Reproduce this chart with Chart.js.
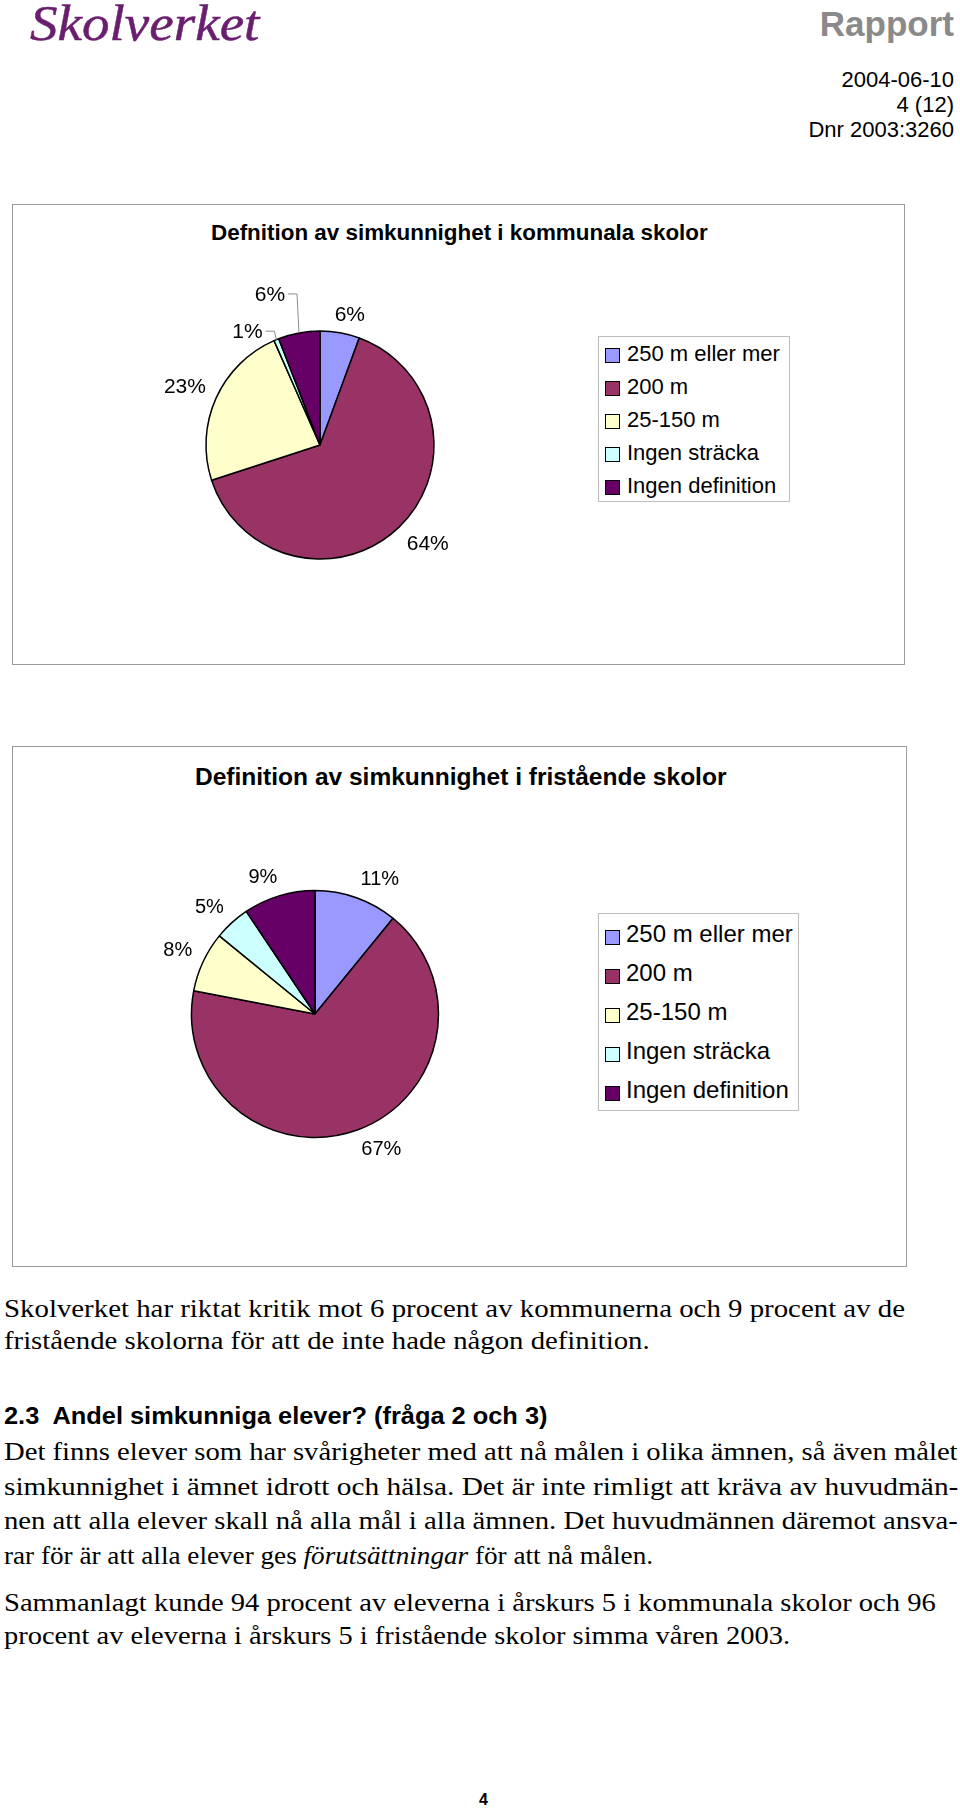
<!DOCTYPE html>
<html lang="sv">
<head>
<meta charset="utf-8">
<title>Definition av simkunnighet</title>
<script src="https://cdn.jsdelivr.net/npm/chart.js@4.4.1/dist/chart.umd.min.js"></script>
<style>
html, body { margin: 0; padding: 0; background: #fff; }
#page { position: relative; width: 960px; height: 1811px; overflow: hidden; font-family: "Liberation Sans", Arial, sans-serif; color: #000; }
.abs { position: absolute; white-space: pre; line-height: 1; }
.serif { font-family: "Liberation Serif", "Times New Roman", serif; font-size: 25px; }
.box { position: absolute; border: 1.5px solid #9a9a9a; box-sizing: border-box; }
canvas { position: absolute; }
.legend { position: absolute; border: 1px solid #bdbdbd; box-sizing: border-box; background: #fff; }
.legend .txt { position: absolute; white-space: nowrap; line-height: 1; }
.legend .mark { position: absolute; border: 1.5px solid #000; box-sizing: border-box; }
</style>
</head>
<body>
<div id="page">
  <div class="abs" id="logo" style="left:30px; top:-2px; font-family:'Liberation Serif',serif; font-style:italic; font-size:51px; color:#6a1f6e; -webkit-text-stroke:0.5px #6a1f6e;" data-w="229">Skolverket</div>
  <div class="abs" style="right:6px; top:6px; font-size:35px; font-weight:bold; color:#8a8a8a;">Rapport</div>
  <div class="abs" style="right:6px; top:69px; font-size:22px;">2004-06-10</div>
  <div class="abs" style="right:6px; top:94px; font-size:22px;">4 (12)</div>
  <div class="abs" style="right:6px; top:119px; font-size:22px;">Dnr 2003:3260</div>

  <div class="box" style="left:12px; top:204px; width:893px; height:461px;"></div>
  <div class="abs title" style="top:222px; font-size:22px; font-weight:bold;" data-cx="459" data-w="497">Defnition av simkunnighet i kommunala skolor</div>
  <canvas id="chart1" width="894" height="461" style="left:12px; top:204px;"></canvas>
  <div class="legend" id="legend1" style="left:598px; top:336px; width:192px; height:166px;"></div>

  <div class="box" style="left:12px; top:746px; width:895px; height:521px;"></div>
  <div class="abs title" style="top:766px; font-size:23px; font-weight:bold;" data-cx="460" data-w="531">Definition av simkunnighet i fristående skolor</div>
  <canvas id="chart2" width="894" height="520" style="left:12px; top:746px;"></canvas>
  <div class="legend" id="legend2" style="left:598px; top:913px; width:201px; height:198px;"></div>

  <div class="abs serif fit" style="left:4px; top:1296px;" data-w="901">Skolverket har riktat kritik mot 6 procent av kommunerna och 9 procent av de</div>
  <div class="abs serif fit" style="left:4px; top:1328px;" data-w="646">fristående skolorna för att de inte hade någon definition.</div>

  <div class="abs fit" style="left:4px; top:1405px; font-size:23px; font-weight:bold;" data-w="544">2.3  Andel simkunniga elever? (fråga 2 och 3)</div>
  <div class="abs serif fit" style="left:4px; top:1439px;" data-w="954">Det finns elever som har svårigheter med att nå målen i olika ämnen, så även målet</div>
  <div class="abs serif fit" style="left:4px; top:1474px;" data-w="954">simkunnighet i ämnet idrott och hälsa. Det är inte rimligt att kräva av huvudmän-</div>
  <div class="abs serif fit" style="left:4px; top:1508px;" data-w="954">nen att alla elever skall nå alla mål i alla ämnen. Det huvudmännen däremot ansva-</div>
  <div class="abs serif fit" style="left:4px; top:1543px;" data-w="649">rar för är att alla elever ges <i>förutsättningar</i> för att nå målen.</div>

  <div class="abs serif fit" style="left:4px; top:1590px;" data-w="932">Sammanlagt kunde 94 procent av eleverna i årskurs 5 i kommunala skolor och 96</div>
  <div class="abs serif fit" style="left:4px; top:1623px;" data-w="786">procent av eleverna i årskurs 5 i fristående skolor simma våren 2003.</div>

  <div class="abs" style="left:479px; top:1792px; font-size:16px; font-weight:bold;">4</div>
</div>

<script>
// data
const categories = ['250 m eller mer', '200 m', '25-150 m', 'Ingen sträcka', 'Ingen definition'];
const kommunalaValues = [5.6, 64.4, 23.4, 0.7, 5.9];
const friståendeValues = [10.9, 67.1, 7.9, 4.7, 9.4];
const sliceColors = ['#9999FF', '#993366', '#FFFFCC', '#CCFFFF', '#660066'];

// squeeze/stretch text lines to the widths in the original page
document.querySelectorAll('[data-w]').forEach(function (el) {
    const target = parseFloat(el.dataset.w);
    const w = el.offsetWidth;
    if (el.dataset.cx) {
        el.style.left = (parseFloat(el.dataset.cx) - target / 2) + 'px';
    }
    el.style.transformOrigin = 'left center';
    el.style.transform = 'scaleX(' + (target / w) + ')';
});

function clamp1(v) {
    return Math.max(-1, Math.min(1, v));
}

// percentage labels outside the slices (corner of the label box sits on
// a point just outside the arc), with leader lines for moved ones
const pctLabels = {
    id: 'pctLabels',
    afterDatasetsDraw(chart, args, opts) {
        const ctx = chart.ctx;
        const meta = chart.getDatasetMeta(0);
        const values = chart.data.datasets[0].data;
        const total = values.reduce((a, b) => a + b, 0);
        ctx.save();
        ctx.font = opts.size + 'px "Liberation Sans", Arial, sans-serif';
        ctx.fillStyle = '#000';
        ctx.textAlign = 'center';
        ctx.textBaseline = 'middle';
        meta.data.forEach(function (arc, i) {
            const p = arc.getProps(['x', 'y', 'startAngle', 'endAngle', 'outerRadius'], true);
            const a = (p.startAngle + p.endAngle) / 2;
            const text = Math.round(values[i] / total * 100) + '%';
            const w = ctx.measureText(text).width;
            const h = opts.size * 0.75;
            const cos = Math.cos(a), sin = Math.sin(a);
            const ex = p.x + cos * p.outerRadius;
            const ey = p.y + sin * p.outerRadius;
            let lx, ly;
            const moved = opts.moved && opts.moved[i];
            if (moved) {
                lx = ex + moved[0];
                ly = ey + moved[1];
                ctx.strokeStyle = '#8c8c8c';
                ctx.lineWidth = 1;
                ctx.beginPath();
                ctx.moveTo(lx + w / 2 + 3, ly);
                ctx.lineTo(ex - 2, ly);
                ctx.lineTo(ex, ey);
                ctx.stroke();
            } else {
                const d = p.outerRadius + opts.gap;
                lx = p.x + cos * d + clamp1(cos * 3) * w / 2;
                ly = p.y + sin * d + clamp1(sin * 3) * h / 2;
            }
            ctx.fillText(text, lx, ly + 1);
        });
        ctx.restore();
    }
};

function piePadding(cx, cy, r, w, h) {
    const half = r + 0.75;
    return { left: cx - half, top: cy - half, right: w - cx - half, bottom: h - cy - half };
}

function makePie(id, values, pad, labelOpts) {
    const canvas = document.getElementById(id);
    return new Chart(canvas.getContext('2d'), {
        type: 'pie',
        data: {
            labels: categories,
            datasets: [{
                data: values,
                backgroundColor: sliceColors,
                borderColor: '#000',
                borderWidth: 1.5,
                hoverOffset: 0
            }]
        },
        options: {
            responsive: false,
            animation: false,
            devicePixelRatio: 1,
            events: [],
            layout: { padding: pad },
            plugins: {
                legend: { display: false },
                tooltip: { enabled: false },
                pctLabels: labelOpts
            }
        },
        plugins: [pctLabels]
    });
}

function buildLegend(chart, el, cfg) {
    const items = chart.options.plugins.legend.labels.generateLabels(chart);
    items.forEach(function (it, i) {
        const yc = cfg.first + i * cfg.step;
        const mark = document.createElement('div');
        mark.className = 'mark';
        mark.style.left = cfg.markLeft + 'px';
        mark.style.top = (yc + cfg.markDy - cfg.mark / 2) + 'px';
        mark.style.width = cfg.mark + 'px';
        mark.style.height = cfg.mark + 'px';
        mark.style.background = it.fillStyle;
        el.appendChild(mark);
        const txt = document.createElement('div');
        txt.className = 'txt';
        txt.textContent = it.text;
        txt.style.left = cfg.textLeft + 'px';
        txt.style.fontSize = cfg.size + 'px';
        txt.style.top = (yc - cfg.size * 0.49) + 'px';
        el.appendChild(txt);
    });
}

const chart1 = makePie('chart1', kommunalaValues, piePadding(308, 241, 114, 894, 461),
    { size: 21, gap: 11, moved: { 3: [-29, -8.5], 4: [-29, -39] } });
const chart2 = makePie('chart2', friståendeValues, piePadding(303, 268, 123.5, 894, 520),
    { size: 20, gap: 12 });

buildLegend(chart1, document.getElementById('legend1'),
    { first: 17, step: 33, mark: 15, markDy: 1, markLeft: 6, textLeft: 28, size: 22 });
buildLegend(chart2, document.getElementById('legend2'),
    { first: 20, step: 39, mark: 15, markDy: 3, markLeft: 6, textLeft: 27, size: 24 });
</script>
</body>
</html>
